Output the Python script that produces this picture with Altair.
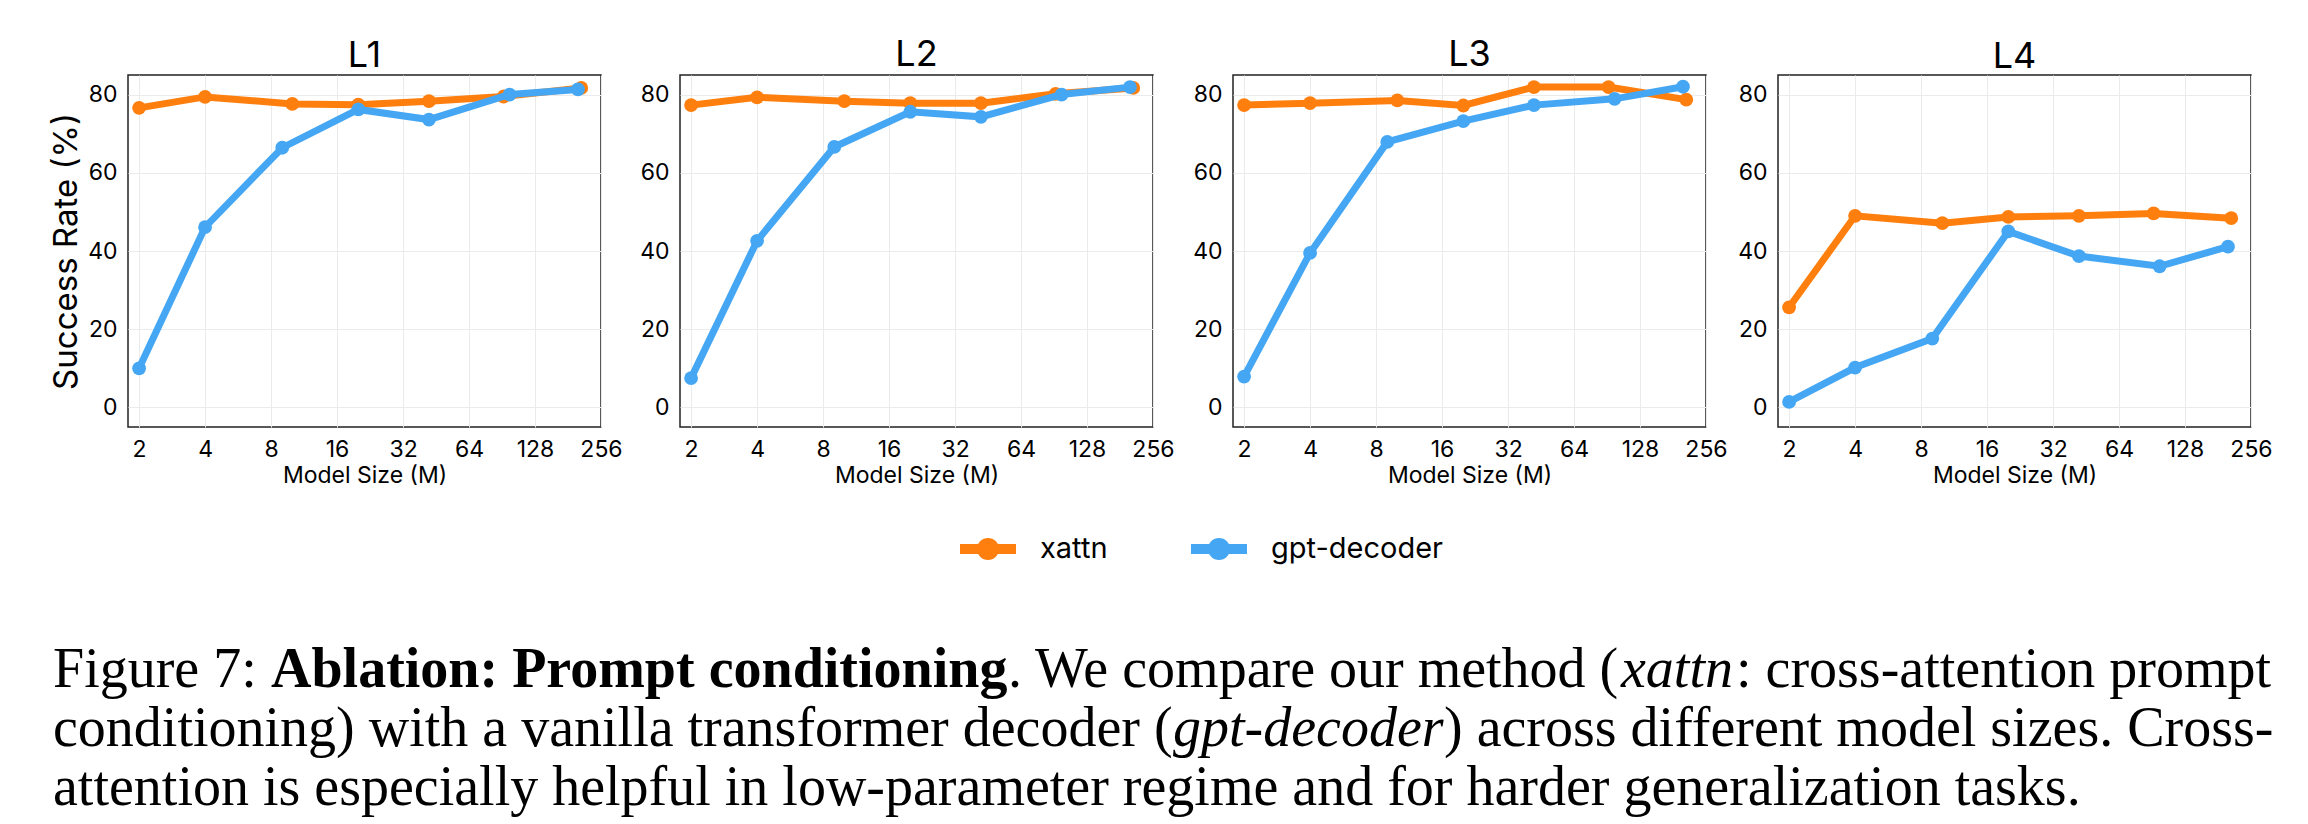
import altair as alt
import pandas as pd

# ---------------- data ----------------
panels = ["L1", "L2", "L3", "L4"]
series = ["xattn", "gpt-decoder"]
size_xattn = [2, 4, 10, 20, 42, 92, 208]
size_gpt = [2, 4, 9, 20, 42, 98, 201]

l1_xattn = [76.6, 79.4, 77.6, 77.4, 78.3, 79.5, 81.7]
l1_gpt = [10.0, 46.1, 66.4, 76.2, 73.6, 80.0, 81.3]
l2_xattn = [77.3, 79.3, 78.3, 77.8, 77.8, 80.2, 81.7]
l2_gpt = [7.5, 42.6, 66.6, 75.6, 74.3, 80.0, 81.9]
l3_xattn = [77.3, 77.8, 78.5, 77.2, 81.9, 81.9, 78.7]
l3_gpt = [7.9, 39.5, 67.9, 73.2, 77.3, 78.9, 82.0]
l4_xattn = [25.6, 49.0, 47.1, 48.7, 49.0, 49.6, 48.4]
l4_gpt = [1.4, 10.2, 17.6, 45.0, 38.7, 36.1, 41.1]

x_ticks = [2, 4, 8, 16, 32, 64, 128, 256]
y_ticks = [0, 20, 40, 60, 80]
colors = ["#ff7f0e", "#45a7f4"]

values = {
    ("L1", "xattn"): l1_xattn, ("L1", "gpt-decoder"): l1_gpt,
    ("L2", "xattn"): l2_xattn, ("L2", "gpt-decoder"): l2_gpt,
    ("L3", "xattn"): l3_xattn, ("L3", "gpt-decoder"): l3_gpt,
    ("L4", "xattn"): l4_xattn, ("L4", "gpt-decoder"): l4_gpt,
}
sizes = {"xattn": size_xattn, "gpt-decoder": size_gpt}

rows = []
for (p, s), vals in values.items():
    for sz, v in zip(sizes[s], vals):
        rows.append({"panel": p, "series": s, "size": sz, "rate": v})
df = pd.DataFrame(rows)

FONT = "Inter"
PW, PH = 473, 352

color_scale = alt.Scale(domain=series, range=colors)
frame = alt.ViewBackground(stroke="#222222", strokeWidth=1.5)


def panel(name, show_ytitle):
    base = alt.Chart(df).transform_filter(alt.datum.panel == name)
    x = alt.X(
        "size:Q",
        scale=alt.Scale(type="log", base=2, domain=[1.78, 256], nice=False),
        axis=alt.Axis(values=x_ticks, format="d", title="Model Size (M)",
                      titleFontSize=23, titlePadding=3),
    )
    y = alt.Y(
        "rate:Q",
        scale=alt.Scale(domain=[-5, 85], nice=False, zero=False),
        axis=alt.Axis(values=y_ticks, title="Success Rate (%)" if show_ytitle else None,
                      titleFontSize=33, titlePadding=4),
    )
    layers = []
    for s in series:
        b = base.transform_filter(alt.datum.series == s)
        layers.append(
            b.mark_line(strokeWidth=7).encode(
                x=x, y=y, color=alt.Color("series:N", scale=color_scale, legend=None))
        )
        layers.append(
            b.mark_circle(size=190, opacity=1).encode(
                x=x, y=y, color=alt.Color("series:N", scale=color_scale, legend=None))
        )
    return alt.layer(*layers).properties(
        width=PW, height=PH, view=frame,
        title=alt.TitleParams(name, fontSize=36, font=FONT, fontWeight="normal",
                              offset=-1, anchor="middle", color="black"),
    )


p1 = panel("L1", True)
p2 = panel("L2", False)
p3 = panel("L3", False)
p4 = panel("L4", False)

row = alt.hconcat(
    alt.hconcat(p1, p2, spacing=15),
    alt.hconcat(p3, p4, spacing=8),
    spacing=16,
)

# ---------------- footer: legend + caption ----------------
# footer origin is aligned with the left edge of the first plot (page x = 129)
leg_df = pd.DataFrame({"series": series, "slot": [0, 1]})
leg_x = alt.X("slot:Q", scale=alt.Scale(domain=[0, 1], range=[860, 1091]), axis=None)
leg_color = alt.Color("series:N", scale=color_scale, legend=None)
LEG_Y = 44
leg_rule = alt.Chart(leg_df).mark_rule(strokeWidth=10, xOffset=-28, x2Offset=28).encode(
    x=leg_x, x2=alt.X2("slot:Q"), y=alt.value(LEG_Y), color=leg_color)
leg_pt = alt.Chart(leg_df).mark_circle(size=490, opacity=1).encode(
    x=leg_x, y=alt.value(LEG_Y), color=leg_color)
leg_txt = alt.Chart(leg_df).mark_text(
    align="left", baseline="middle", dx=52, fontSize=29, font=FONT, color="black"
).encode(x=leg_x, y=alt.value(LEG_Y), text="series:N")

one = pd.DataFrame({"d": [0]})
anchor = alt.Chart(one).mark_rule(opacity=0).encode(
    x=alt.value(0), x2=alt.value(10), y=alt.value(0))

SERIF = "Liberation Serif"
CAP = 56
OX = 129  # page x of footer origin


def cap(text, x, y, weight="normal", style="normal", align="left"):
    return alt.Chart(one).mark_text(
        align=align, baseline="alphabetic", font=SERIF, fontSize=CAP,
        fontWeight=weight, fontStyle=style, color="black"
    ).encode(x=alt.value(x - OX), y=alt.value(y), text=alt.value(text))


Y1, Y2, Y3 = 182, 241, 300
caps = [
    cap("Figure 7: ", 54, Y1),
    cap("Ablation: Prompt conditioning", 272, Y1, weight="bold"),
    cap(". We compare our method (", 1009, Y1),
    cap("xattn", 1622, Y1, style="italic"),
    cap(": cross-attention prompt", 1737, Y1),
    cap("conditioning) with a vanilla transformer decoder (", 54, Y2),
    cap("gpt-decoder", 1174, Y2, style="italic"),
    cap(") across different model sizes. Cross-", 1445, Y2),
    cap("attention is especially helpful in low-parameter regime and for harder generalization tasks.", 54, Y3),
]

footer = alt.layer(anchor, leg_rule, leg_pt, leg_txt, *caps).properties(width=1900, height=310)

chart = alt.vconcat(row, footer, spacing=17).properties(
    padding={"left": 41, "top": 27, "right": 5, "bottom": 5}
).configure_view(
    stroke=None
).configure_axis(
    labelFont=FONT, labelFontSize=23, labelColor="black", labelPadding=11, labelFlush=False,
    titleFont=FONT, titleColor="black", titleFontWeight="normal",
    ticks=False, domain=False, grid=True, gridColor="#ebebeb", gridWidth=1,
)

chart.save("out.html", embed_options={"renderer": "svg", "actions": False})
